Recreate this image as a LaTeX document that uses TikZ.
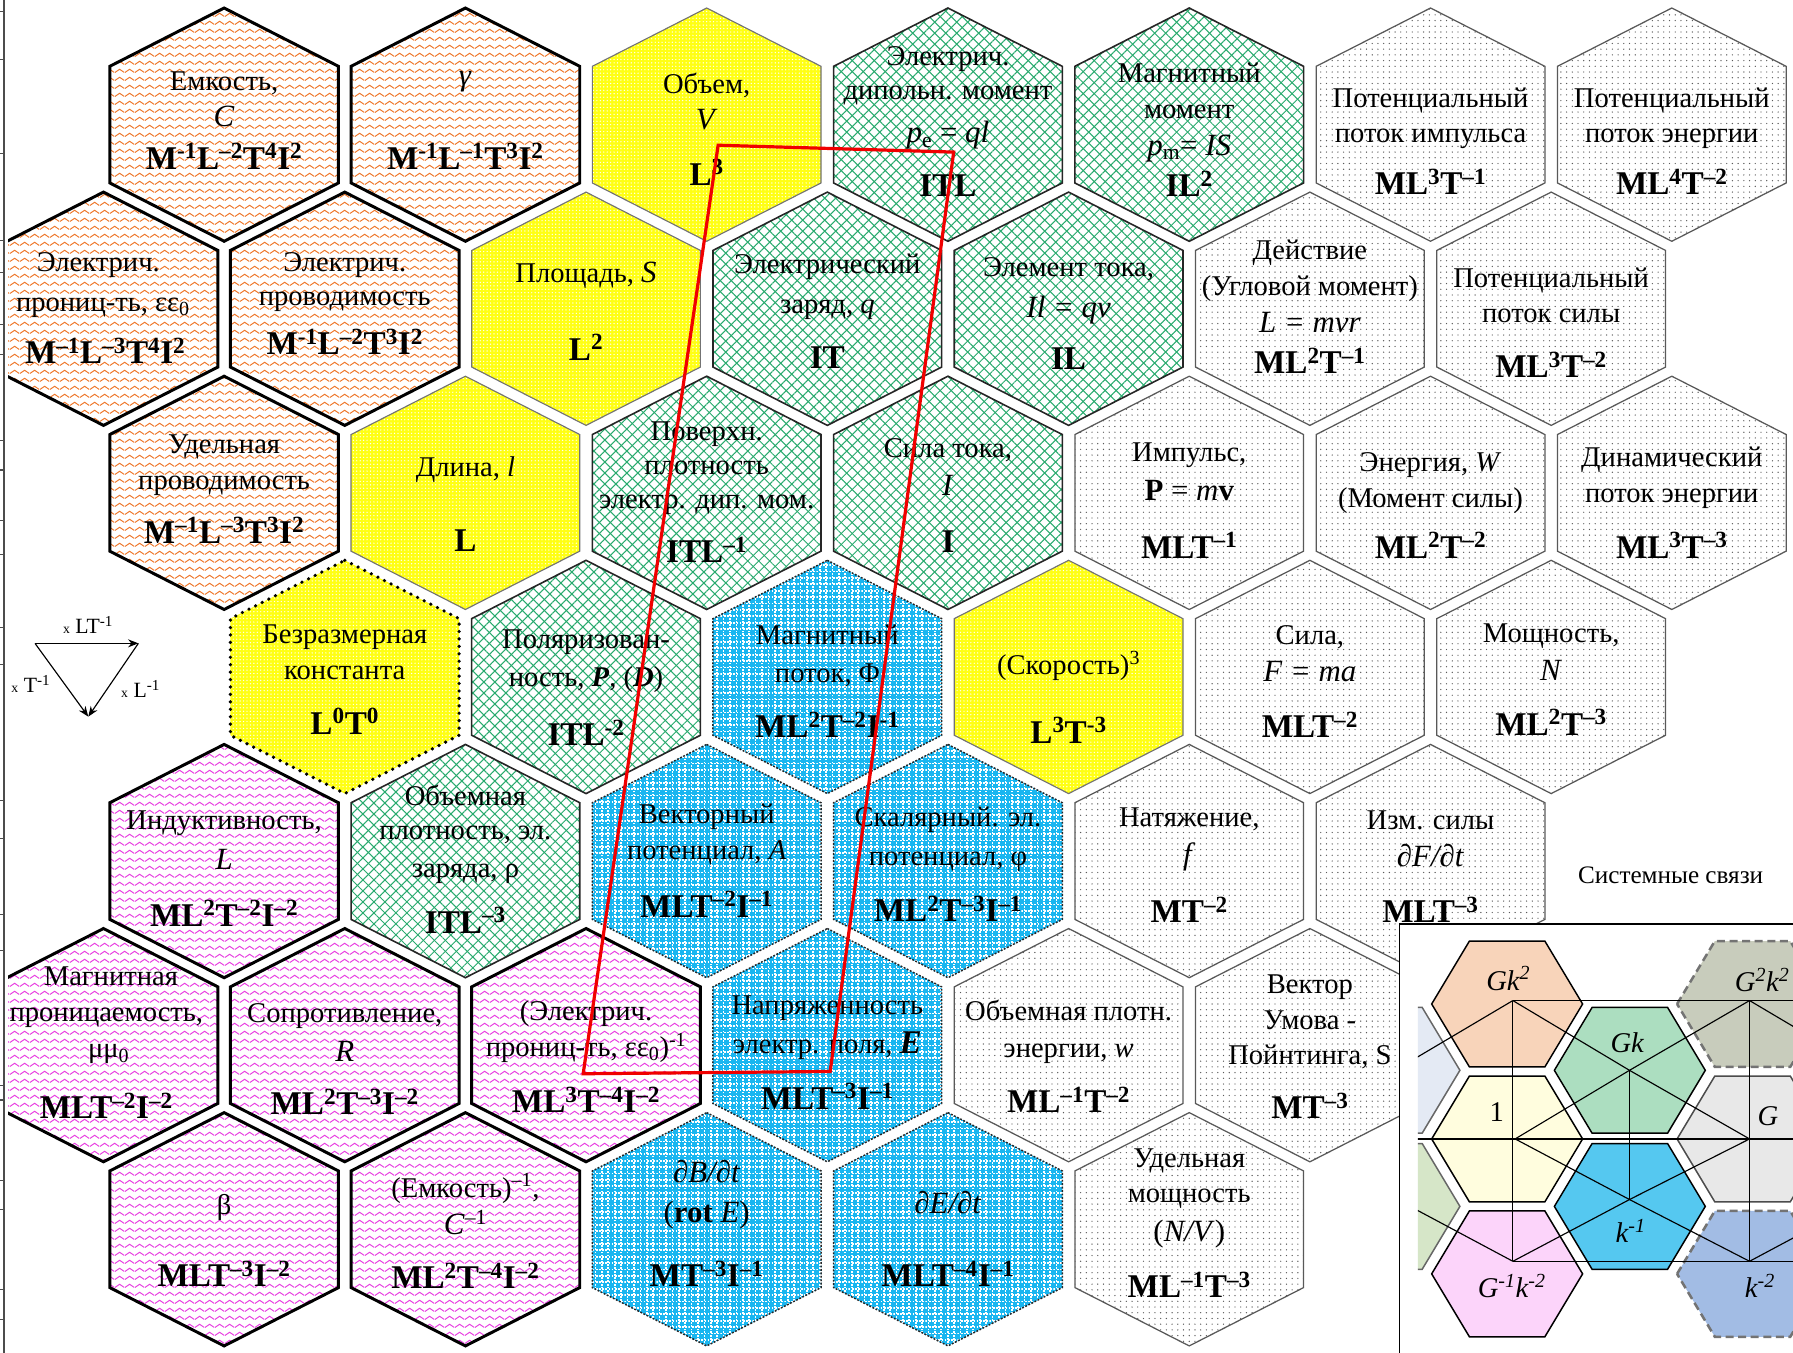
\documentclass[tikz,border=0pt]{standalone}
\usepackage{fontspec}
\setmainfont{Liberation Serif}
\usetikzlibrary{patterns.meta,arrows.meta}
\newcommand\su[1]{\textsuperscript{#1}}
\newcommand\subs[1]{\textsubscript{#1}}
\definecolor{zzor}{RGB}{238,118,40}
\definecolor{zzpk}{RGB}{232,60,225}
\definecolor{grn}{RGB}{40,170,110}
\definecolor{cyn}{RGB}{25,182,240}
\definecolor{yel}{RGB}{255,255,20}
\definecolor{dotg}{RGB}{90,90,90}
\definecolor{redq}{RGB}{240,0,0}
\definecolor{iPeach}{RGB}{248,212,186}
\definecolor{iMint}{RGB}{172,222,192}
\definecolor{iYel}{RGB}{255,253,222}
\definecolor{iCyan}{RGB}{85,200,240}
\definecolor{iPink}{RGB}{252,212,250}
\definecolor{iGG}{RGB}{200,204,188}
\definecolor{iGray}{RGB}{232,232,232}
\definecolor{iBlue}{RGB}{162,188,228}
\definecolor{iLB}{RGB}{228,234,244}
\definecolor{iLG}{RGB}{214,230,200}
\tikzdeclarepattern{
  name=wavy,
  type=uncolored,
  bounding box={(0pt,0pt) and (8.4pt,7.2pt)},
  tile size={(8.4pt,7.2pt)},
  code={
    \draw[line width=0.9pt] (0pt,1.5pt) .. controls (2.1pt,1.5pt) and (2.1pt,4.5pt) .. (4.2pt,4.5pt) .. controls (6.3pt,4.5pt) and (6.3pt,1.5pt) .. (8.4pt,1.5pt);
  }
}
\newcommand\hexat[3]{\path[#1] (#2,#3-102) -- (#2+100,#3-51) -- (#2+100,#3+51) -- (#2,#3+102) -- (#2-100,#3+51) -- (#2-100,#3-51) -- cycle;}
\newcommand\ihex[3]{\path[#1] (#2-66,#3) -- (#2-33,#3-55) -- (#2+33,#3-55) -- (#2+66,#3) -- (#2+33,#3+55) -- (#2-33,#3+55) -- cycle;}
\begin{document}
\begin{tikzpicture}[x=1pt,y=-1pt,
  hexor/.style={preaction={fill=white},pattern=wavy,pattern color=zzor,draw=black,line width=2.6pt},
  hexpk/.style={preaction={fill=white},pattern=wavy,pattern color=zzpk,draw=black,line width=2.6pt},
  hexgr/.style={preaction={fill=white},preaction={pattern={Lines[angle=45,distance=6.8pt,line width=0.9pt]},pattern color=grn},pattern={Lines[angle=-45,distance=6.8pt,line width=0.9pt]},pattern color=grn,draw=black!85,line width=1.4pt},
  hexbl/.style={preaction={fill=cyn},pattern={Hatch[distance=5.6pt,line width=1.5pt]},pattern color=white,draw=black!85,line width=1.3pt,dash pattern=on 1.6pt off 1.4pt},
  hexye/.style={preaction={fill=yel},pattern={Dots[distance=3pt,radius=0.6pt]},pattern color=white,draw=black!55,line width=1pt},
  hexyd/.style={preaction={fill=yel},pattern={Dots[distance=3pt,radius=0.6pt]},pattern color=white,draw=black,line width=3.2pt,dash pattern=on 0pt off 6.5pt,line cap=round},
  hexgy/.style={preaction={fill=white},pattern={Dots[distance=5pt,radius=0.6pt]},pattern color=dotg,draw=black!65,line width=1.1pt},
  tx/.style={anchor=base,inner sep=0pt,font=\fontsize{25}{30}\selectfont},
  eq/.style={anchor=base,inner sep=0pt,font=\fontsize{27}{32}\selectfont},
  fm/.style={anchor=base,inner sep=0pt,font=\fontsize{29}{34}\selectfont\bfseries},
  lg/.style={anchor=base,inner sep=0pt,font=\fontsize{19}{22}\selectfont},
  it/.style={anchor=base,inner sep=0pt,font=\fontsize{25}{30}\selectfont\itshape},
  ihs/.style={draw=black,line width=1.3pt},
  ihd/.style={draw=black!55,line width=2.2pt,dash pattern=on 7pt off 4pt},
  net/.style={draw=black,line width=1pt},
  arr/.style={line width=1pt,-{Stealth[length=9pt,width=7pt]}}
]
\useasboundingbox (0,0) rectangle (1568,1183);
\clip (0,0) rectangle (1568,1183);
% ruler
\draw[line width=2pt,black!70] (3.5,0) -- (3.5,1183);
\foreach \t in {10,52,134,210,238,284,310,385,411,455,485,549,581,700,733,800,831,949,962,1032,1058,1128,1154}
  \draw[line width=1pt,black!70] (0,\t) -- (3.5,\t);
\begin{scope}
\clip (7,0) rectangle (1568,1183);
% row 0
\hexat{hexor}{196}{109}\hexat{hexor}{407}{109}\hexat{hexye}{618}{109}\hexat{hexgr}{829}{109}
\hexat{hexgr}{1040}{109}\hexat{hexgy}{1251}{109}\hexat{hexgy}{1462}{109}
% row 1
\hexat{hexor}{90.5}{270}\hexat{hexor}{301.5}{270}\hexat{hexye}{512.5}{270}\hexat{hexgr}{723.5}{270}
\hexat{hexgr}{934.5}{270}\hexat{hexgy}{1145.5}{270}\hexat{hexgy}{1356.5}{270}
% row 2
\hexat{hexor}{196}{431}\hexat{hexye}{407}{431}\hexat{hexgr}{618}{431}\hexat{hexgr}{829}{431}
\hexat{hexgy}{1040}{431}\hexat{hexgy}{1251}{431}\hexat{hexgy}{1462}{431}
% row 3
\hexat{hexyd}{301.5}{592}\hexat{hexgr}{512.5}{592}\hexat{hexbl}{723.5}{592}\hexat{hexye}{934.5}{592}
\hexat{hexgy}{1145.5}{592}\hexat{hexgy}{1356.5}{592}
% row 4
\hexat{hexpk}{196}{753}\hexat{hexgr}{407}{753}\hexat{hexbl}{618}{753}\hexat{hexbl}{829}{753}
\hexat{hexgy}{1040}{753}\hexat{hexgy}{1251}{753}
% row 5
\hexat{hexpk}{90.5}{914}\hexat{hexpk}{301.5}{914}\hexat{hexpk}{512.5}{914}\hexat{hexbl}{723.5}{914}
\hexat{hexgy}{934.5}{914}\hexat{hexgy}{1145.5}{914}
% row 6
\hexat{hexpk}{196}{1075}\hexat{hexpk}{407}{1075}\hexat{hexbl}{618}{1075}\hexat{hexbl}{829}{1075}
\hexat{hexgy}{1040}{1075}
% ---- texts row 0
\node[tx] (t00a) at (196,79) {Емкость,};
\node[eq] (t00b) at (196,111) {\textit{C}};
\node[fm] (t00c) at (196,148) {M\su{-1}L\su{–2}T\su{4}I\su{2}};
\node[eq] (t01a) at (407,75) {\textit{γ}};
\node[fm] (t01c) at (407,148) {M\su{-1}L\su{–1}T\su{3}I\su{2}};
\node[tx] (t02a) at (618,82) {Объем,};
\node[eq] (t02b) at (618,113) {\textit{V}};
\node[fm] (t02c) at (618,162) {L\su{3}};
\node[tx] (t03a) at (829,57) {Электрич.};
\node[tx] (t03b) at (829,87) {дипольн. момент};
\node[eq] (t03c) at (829,125) {\textit{p}\subs{e} = \textit{ql}};
\node[fm] (t03d) at (829,172) {ITL};
\node[tx] (t04a) at (1040,72) {Магнитный};
\node[tx] (t04b) at (1040,104) {момент};
\node[eq] (t04c) at (1040,136) {\textit{p}\subs{m}= \textit{IS}};
\node[fm] (t04d) at (1040,172) {IL\su{2}};
\node[tx] (t05a) at (1251,94) {Потенциальный};
\node[tx] (t05b) at (1251,125) {поток импульса};
\node[fm] (t05c) at (1251,170) {ML\su{3}T\su{–1}};
\node[tx] (t06a) at (1462,94) {Потенциальный};
\node[tx] (t06b) at (1462,125) {поток энергии};
\node[fm] (t06c) at (1462,170) {ML\su{4}T\su{–2}};
% row 1
\node[tx] (t10a) at (86,237) {Электрич.};
\node[tx] (t10b) at (90,272) {прониц-ть, εε\subs{0}};
\node[fm] (t10c) at (92,318) {M\su{–1}L\su{–3}T\su{4}I\su{2}};
\node[tx] (t11a) at (301.5,237) {Электрич.};
\node[tx] (t11b) at (301.5,267) {проводимость};
\node[fm] (t11c) at (301.5,310) {M\su{-1}L\su{–2}T\su{3}I\su{2}};
\node[tx] (t12a) at (512.5,247) {Площадь, {\fontsize{27}{30}\selectfont\textit{S}}};
\node[fm] (t12c) at (512.5,315) {L\su{2}};
\node[tx] (t13a) at (723.5,239) {Электрический};
\node[tx] (t13b) at (723.5,274) {заряд, \textit{q}};
\node[fm] (t13c) at (723.5,322) {IT};
\node[tx] (t14a) at (934.5,242) {Элемент тока,};
\node[eq] (t14b) at (934.5,278) {\textit{Il = qv}};
\node[fm] (t14c) at (934.5,323) {IL};
\node[tx] (t15a) at (1145.5,227) {Действие};
\node[tx] (t15b) at (1145.5,258) {(Угловой момент)};
\node[eq] (t15c) at (1145.5,291) {\textit{L = mvr}};
\node[fm] (t15d) at (1145.5,327) {ML\su{2}T\su{–1}};
\node[tx] (t16a) at (1356.5,251) {Потенциальный};
\node[tx] (t16b) at (1356.5,282) {поток силы};
\node[fm] (t16c) at (1356.5,330) {ML\su{3}T\su{–2}};
% row 2
\node[tx] (t20a) at (196,397) {Удельная};
\node[tx] (t20b) at (196,428) {проводимость};
\node[fm] (t20c) at (196,475) {M\su{–1}L\su{–3}T\su{3}I\su{2}};
\node[tx] (t21a) at (407,417) {Длина, \textit{l}};
\node[fm] (t21c) at (407,482) {L};
\node[tx] (t22a) at (618,385) {Поверхн.};
\node[tx] (t22b) at (618,415) {плотность};
\node[tx] (t22c) at (618,445) {электр. дип. мом.};
\node[fm] (t22d) at (618,492) {ITL\su{–1}};
\node[tx] (t23a) at (829,400) {Сила тока,};
\node[eq] (t23b) at (829,433) {\textit{I}};
\node[fm] (t23c) at (829,483) {I};
\node[tx] (t24a) at (1040,404) {Импульс,};
\node[eq] (t24b) at (1040,438) {\textbf{P} = \textit{m}\textbf{v}};
\node[fm] (t24c) at (1040,488) {MLT\su{–1}};
\node[tx] (t25a) at (1251,412) {Энергия, \textit{W}};
\node[tx] (t25b) at (1251,444) {(Момент силы)};
\node[fm] (t25c) at (1251,488) {ML\su{2}T\su{–2}};
\node[tx] (t26a) at (1462,408) {Динамический};
\node[tx] (t26b) at (1462,439) {поток энергии};
\node[fm] (t26c) at (1462,488) {ML\su{3}T\su{–3}};
% row 3
\node[tx] (t31a) at (301.5,563) {Безразмерная};
\node[tx] (t31b) at (301.5,594) {константа};
\node[fm] (t31c) at (301.5,642) {L\su{0}T\su{0}};
\node[tx] (t32a) at (512.5,567) {Поляризован-};
\node[tx] (t32b) at (512.5,600) {ность, \textbf{\textit{P}}, (\textbf{\textit{D}})};
\node[fm] (t32c) at (512.5,652) {ITL\su{-2}};
\node[tx] (t33a) at (723.5,564) {Магнитный};
\node[tx] (t33b) at (723.5,597) {поток, Φ};
\node[fm] (t33c) at (723.5,645) {ML\su{2}T\su{–2}I\su{-1}};
\node[tx] (t34a) at (934.5,590) {(Скорость)\su{3}};
\node[fm] (t34c) at (934.5,650) {L\su{3}T\su{-3}};
\node[tx] (t35a) at (1145.5,564) {Сила,};
\node[eq] (t35b) at (1145.5,596) {\textit{F = ma}};
\node[fm] (t35c) at (1145.5,645) {MLT\su{–2}};
\node[tx] (t36a) at (1356.5,562) {Мощность,};
\node[eq] (t36b) at (1356.5,595) {\textit{N}};
\node[fm] (t36c) at (1356.5,643) {ML\su{2}T\su{–3}};
% row 4
\node[tx] (t40a) at (196,725) {Индуктивность,};
\node[eq] (t40b) at (196,760) {\textit{L}};
\node[fm] (t40c) at (196,810) {ML\su{2}T\su{–2}I\su{–2}};
\node[tx] (t41a) at (407,704) {Объемная};
\node[tx] (t41b) at (407,734) {плотность, эл.};
\node[tx] (t41c) at (407,767) {заряда, ρ};
\node[fm] (t41d) at (407,816) {ITL\su{–3}};
\node[tx] (t42a) at (618,720) {Векторный};
\node[tx] (t42b) at (618,752) {потенциал, \textit{A}};
\node[fm] (t42c) at (618,802) {MLT\su{–2}I\su{–1}};
\node[tx] (t43a) at (829,723) {Скалярный. эл.};
\node[tx] (t43b) at (829,757) {потенциал, φ};
\node[fm] (t43c) at (829,806) {ML\su{2}T\su{–3}I\su{–1}};
\node[tx] (t44a) at (1040,723) {Натяжение,};
\node[eq] (t44b) at (1040,756) {\textit{f}};
\node[fm] (t44c) at (1040,807) {MT\su{–2}};
\node[tx] (t45a) at (1251,725) {Изм. силы};
\node[eq] (t45b) at (1251,758) {\textit{∂F/∂t}};
\node[fm] (t45c) at (1251,807) {MLT\su{–3}};
% row 5
\node[tx] (t50a) at (97,862) {Магнитная};
\node[tx] (t50b) at (93,893) {проницаемость,};
\node[tx] (t50c) at (95,925) {μμ\subs{0}};
\node[fm] (t50d) at (93,978) {MLT\su{–2}I\su{–2}};
\node[tx] (t51a) at (301.5,894) {Сопротивление,};
\node[eq] (t51b) at (301.5,928) {\textit{R}};
\node[fm] (t51c) at (301.5,975) {ML\su{2}T\su{–3}I\su{–2}};
\node[tx] (t52a) at (512.5,892) {(Электрич.};
\node[tx] (t52b) at (512.5,924) {прониц-ть, εε\subs{0})\su{-1}};
\node[fm] (t52c) at (512.5,973) {ML\su{3}T\su{–4}I\su{–2}};
\node[tx] (t53a) at (723.5,887) {Напряженность};
\node[tx] (t53b) at (723.5,921) {электр. поля, {\fontsize{29}{30}\selectfont\textbf{\textit{E}}}};
\node[fm] (t53c) at (723.5,970) {MLT\su{–3}I\su{–1}};
\node[tx] (t54a) at (934.5,892) {Объемная плотн.};
\node[tx] (t54b) at (934.5,925) {энергии, \textit{w}};
\node[fm] (t54c) at (934.5,973) {ML\su{–1}T\su{–2}};
\node[tx] (t55a) at (1145.5,869) {Вектор};
\node[tx] (t55b) at (1145.5,900) {Умова -};
\node[tx] (t55c) at (1145.5,931) {Пойнтинга, S};
\node[fm] (t55d) at (1145.5,978) {MT\su{–3}};
% row 6
\node[tx] (t60a) at (196,1062) {β};
\node[fm] (t60c) at (196,1125) {MLT\su{–3}I\su{–2}};
\node[tx] (t61a) at (407,1047) {(Емкость)\su{–1},};
\node[eq] (t61b) at (407,1080) {\textit{C}\su{–1}};
\node[fm] (t61c) at (407,1127) {ML\su{2}T\su{–4}I\su{–2}};
\node[eq] (t62a) at (618,1034) {\textit{∂B/∂t}};
\node[eq] (t62b) at (618,1069) {(\textbf{rot} \textit{E})};
\node[fm] (t62c) at (618,1125) {MT\su{–3}I\su{–1}};
\node[eq] (t63a) at (829,1061) {\textit{∂E/∂t}};
\node[fm] (t63c) at (829,1125) {MLT\su{–4}I\su{–1}};
\node[tx] (t64a) at (1040,1021) {Удельная};
\node[tx] (t64b) at (1040,1052) {мощность};
\node[eq] (t64c) at (1040,1086) {(\textit{N/V})};
\node[fm] (t64d) at (1040,1135) {ML\su{–1}T\su{–3}};
\end{scope}
% red quadrilateral
\coordinate (q1) at (628,127);
\coordinate (q2) at (834,133);
\coordinate (q3) at (726,937);
\coordinate (q4) at (510,939);
\draw[redq,line width=2.8pt] (q1) -- (q2) -- (q3) -- (q4) -- cycle;
% legend triangle
\coordinate (v1) at (30.6,562.6);
\coordinate (v2) at (121,562.6);
\coordinate (v3) at (77.2,626.7);
\draw[arr] (v1) -- (v2);
\draw[arr] (v2) -- (v3);
\draw[arr] (v1) -- (v3);
\node[lg] (lgA) at (77,554) {{\fontsize{12}{14}\selectfont x} LT\su{-1}};
\node[lg] (lgB) at (27,606) {{\fontsize{12}{14}\selectfont x} T\su{-1}};
\node[lg] (lgC) at (123,610) {{\fontsize{12}{14}\selectfont x} L\su{-1}};
% caption
\node[anchor=base,inner sep=0pt,font=\fontsize{22}{26}\selectfont] (cap) at (1461,773) {Системные связи};
% inset
\draw[line width=1.3pt,fill=white] (1224,808) rectangle (1600,1200);
\begin{scope}
\clip (1240,815) rectangle (1568,1183);
\ihex{ihs,fill=iLB,draw=black!60}{1210.7}{936}
\ihex{ihs,fill=iLG,draw=black!60}{1210.7}{1055}
\ihex{ihs,fill=iPeach}{1318}{878}
\ihex{ihs,fill=iYel}{1318}{996}
\ihex{ihs,fill=iPink}{1318}{1114}
\ihex{ihs,fill=iMint}{1425.3}{936}
\ihex{ihs,fill=iCyan}{1425.3}{1055}
\ihex{ihd,fill=iGG}{1532.6}{878}
\ihex{ihs,fill=iGray,draw=black!70}{1532.6}{996}
\ihex{ihd,fill=iBlue}{1532.6}{1114}
\coordinate (iA) at (1323,875);
\coordinate (iB) at (1530,875);
\coordinate (iC) at (1325,996);
\coordinate (iD) at (1530,996);
\coordinate (iE) at (1323,1103);
\coordinate (iF) at (1530,1103);
\coordinate (iP) at (1425,936);
\coordinate (iQ) at (1425,1049);
\coordinate (iL1) at (1220,936);
\coordinate (iL2) at (1220,1048);
\coordinate (iR1) at (1633,936);
\coordinate (iR2) at (1633,1048);
\coordinate (iHa) at (1600,875);
\coordinate (iHb) at (1230,996);
\coordinate (iHc) at (1600,996);
\coordinate (iHd) at (1600,1103);
\draw[net] (iA) -- (iHa);
\draw[net] (iHb) -- (iHc);
\draw[net] (iE) -- (iHd);
\draw[net] (iA) -- (iE);
\draw[net] (iB) -- (iF);
\draw[net] (iP) -- (iQ);
\draw[net] (iA) -- (iP) -- (iD);
\draw[net] (iC) -- (iP) -- (iB);
\draw[net] (iC) -- (iQ) -- (iF);
\draw[net] (iE) -- (iQ) -- (iD);
\draw[net] (iL1) -- (iA);
\draw[net] (iL2) -- (iE);
\draw[net] (iB) -- (iR1);
\draw[net] (iF) -- (iR2);
\node[it] (iT1) at (1319,866) {Gk\su{2}};
\node[it] (iT2) at (1423,920) {Gk};
\node[anchor=base,inner sep=0pt,font=\fontsize{25}{30}\selectfont] (iT3) at (1309,981) {1};
\node[it] (iT4) at (1546,984) {G};
\node[it] (iT5) at (1426,1087) {k\su{-1}};
\node[it] (iT6) at (1322,1135) {G\su{-1}k\su{-2}};
\node[it] (iT7) at (1541,867) {G\su{2}k\su{2}};
\node[it] (iT8) at (1539,1135) {k\su{-2}};
\end{scope}
\end{tikzpicture}
\end{document}
